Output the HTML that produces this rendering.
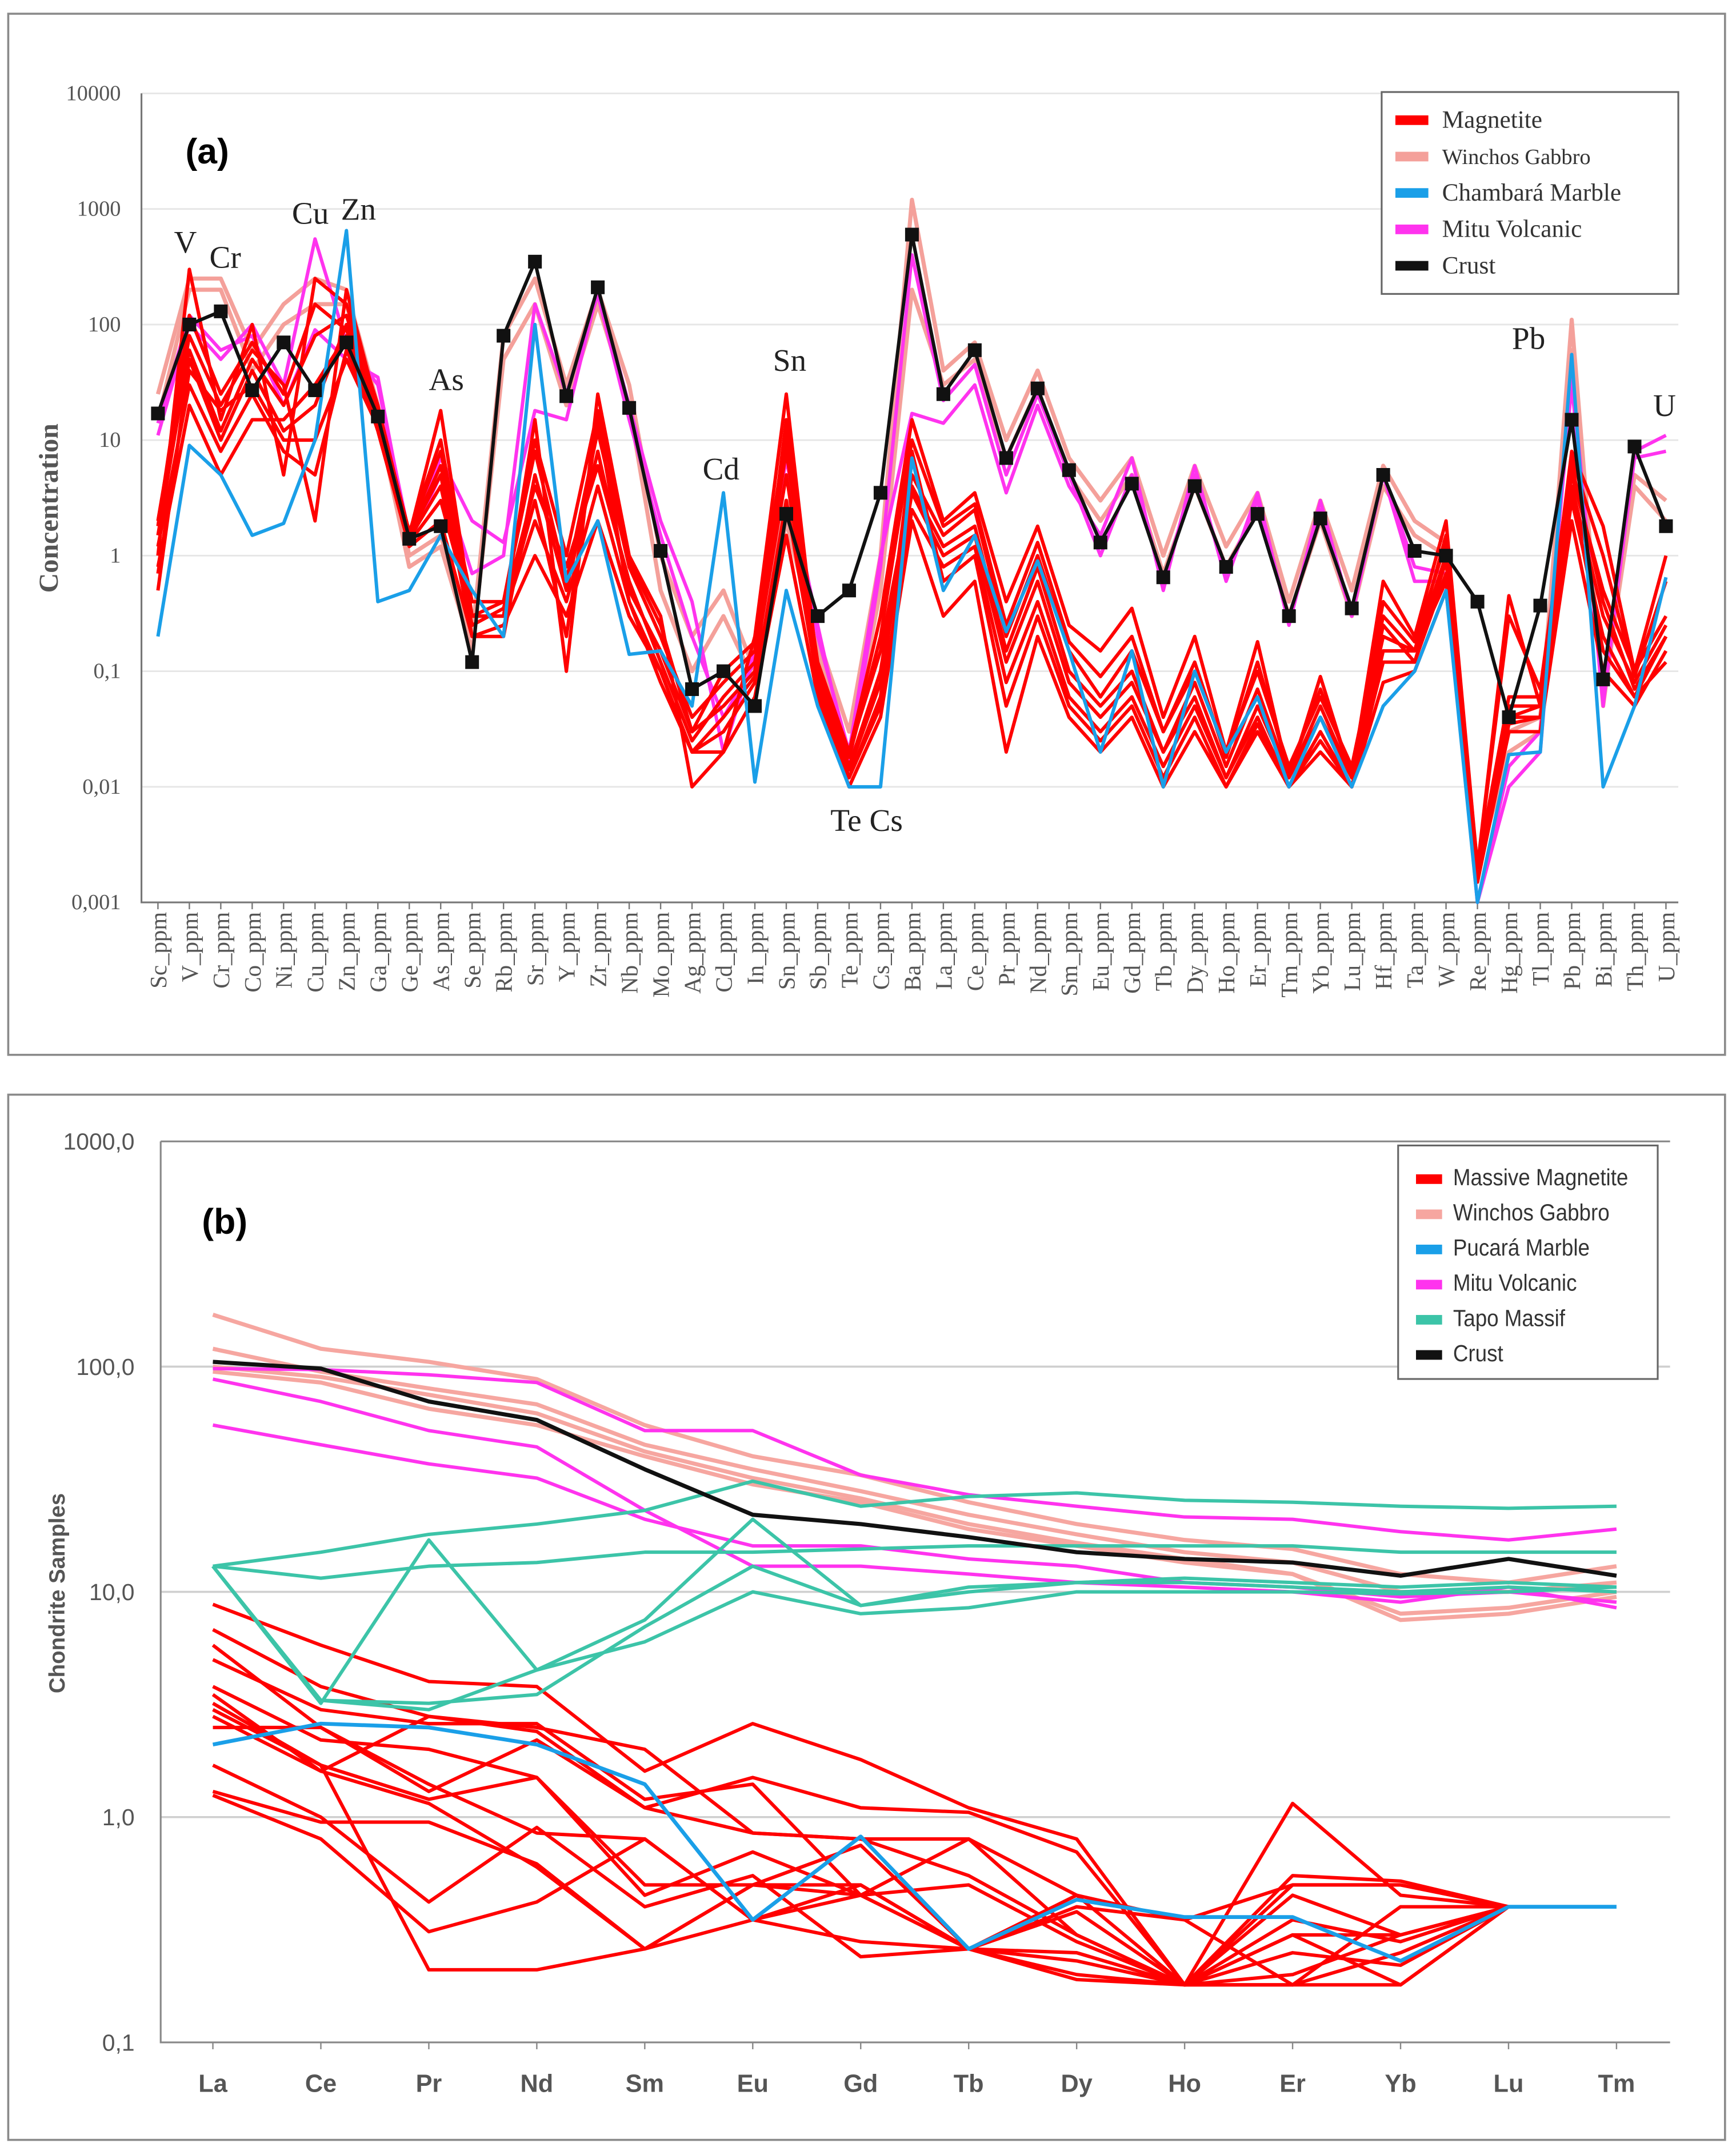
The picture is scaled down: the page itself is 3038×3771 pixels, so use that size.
<!DOCTYPE html>
<html><head><meta charset="utf-8">
<style>
html,body{margin:0;padding:0;background:#fff;}
svg{display:block;}
.serif{font-family:"Liberation Serif",serif;}
.sans{font-family:"Liberation Sans",sans-serif;}
</style></head>
<body>
<svg id="fig" width="3038" height="3771" viewBox="0 0 1264 1569" preserveAspectRatio="none" xmlns="http://www.w3.org/2000/svg">
<defs><clipPath id="lgclip"><rect x="1018" y="834" width="188" height="170"/></clipPath></defs>
<rect x="0" y="0" width="1264" height="1569" fill="#fff"/>
<rect x="6" y="10" width="1250" height="758" fill="none" stroke="#8a8a8a" stroke-width="1.5"/>
<rect x="6" y="797" width="1250" height="761" fill="none" stroke="#8a8a8a" stroke-width="1.5"/>
<g id="ga"></g>
<g id="gb"></g>
</svg>
<script>
// ---------- Chart A data ----------
const catsA = ["Sc","V","Cr","Co","Ni","Cu","Zn","Ga","Ge","As","Se","Rb","Sr","Y","Zr","Nb","Mo","Ag","Cd","In","Sn","Sb","Te","Cs","Ba","La","Ce","Pr","Nd","Sm","Eu","Gd","Tb","Dy","Ho","Er","Tm","Yb","Lu","Hf","Ta","W","Re","Hg","Tl","Pb","Bi","Th","U"];
const ticksA = ["10000","1000","100","10","1","0,1","0,01","0,001"];
const crustA = [17,100,130,27,70,27,70,16,1.4,1.8,0.12,80,350,24,210,19,1.1,0.07,0.1,0.05,2.3,0.3,0.5,3.5,600,25,60,7,28,5.5,1.3,4.2,0.65,4,0.8,2.3,0.3,2.1,0.35,5,1.1,1,0.4,0.04,0.37,15,0.085,8.8,1.8];
const marbleA = [0.2,9,5,1.5,1.9,10,650,0.4,0.5,1.5,0.5,0.2,100,0.6,2,0.14,0.15,0.05,3.5,0.011,0.5,0.05,0.01,0.01,7,0.5,1.5,0.22,0.9,0.15,0.02,0.15,0.01,0.1,0.02,0.06,0.01,0.04,0.01,0.05,0.1,0.5,0.001,0.019,0.02,55,0.01,0.05,0.65];
const magA1 = [1,300,15,100,5,250,150,20,1.5,18,0.3,0.3,15,0.1,25,1,0.3,0.01,0.02,0.2,25,0.1,0.02,0.3,15,2,3.5,0.4,1.8,0.25,0.15,0.35,0.04,0.2,0.02,0.18,0.012,0.09,0.012,0.6,0.2,2,0.002,0.45,0.05,8,1.8,0.1,1];
const magA2 = [0.5,50,10,40,12,20,100,15,1.5,5,0.2,0.2,5,0.5,8,0.5,0.15,0.03,0.05,0.1,10,0.1,0.015,0.1,5,1.5,2.5,0.2,1,0.15,0.06,0.15,0.03,0.1,0.02,0.1,0.015,0.06,0.015,0.3,0.15,1,0.002,0.05,0.05,5,0.5,0.1,0.3];
const magA3 = [1.2,30,8,25,8,5,60,14,1.3,3,0.3,0.3,2,0.4,4,0.4,0.1,0.02,0.03,0.08,3,0.08,0.012,0.05,2.5,0.8,1.2,0.08,0.4,0.06,0.03,0.06,0.015,0.05,0.012,0.04,0.01,0.03,0.01,0.12,0.12,0.7,0.0015,0.04,0.04,3,0.2,0.06,0.2];
const magA4 = [2,80,20,60,30,2,200,18,1.6,8,0.4,0.4,8,0.6,12,0.8,0.2,0.04,0.08,0.15,8,0.12,0.02,0.15,4,1.2,1.8,0.15,0.8,0.1,0.05,0.1,0.02,0.08,0.015,0.07,0.012,0.05,0.012,0.2,0.15,1.5,0.002,0.06,0.06,4,0.3,0.08,0.25];
const magA5 = [0.8,20,5,15,15,30,80,12,1.2,2,0.2,0.25,1,0.3,2,0.3,0.1,0.02,0.02,0.06,1.5,0.06,0.01,0.04,2,0.3,0.6,0.02,0.2,0.04,0.02,0.04,0.01,0.03,0.01,0.03,0.01,0.02,0.01,0.08,0.1,0.5,0.0015,0.03,0.03,2,0.1,0.05,0.15];
const magA6 = [1.5,60,12,50,20,80,120,16,1.4,4,0.25,0.35,4,0.8,6,0.6,0.12,0.025,0.06,0.12,5,0.09,0.014,0.08,3.5,1,1.5,0.12,0.6,0.08,0.04,0.08,0.02,0.06,0.012,0.05,0.012,0.04,0.012,0.25,0.12,0.9,0.002,0.04,0.05,6,0.4,0.07,0.2];
const magA7 = [0.7,40,18,30,10,10,50,13,1.5,6,0.3,0.3,3,0.2,15,0.4,0.08,0.02,0.04,0.09,15,0.07,0.012,0.06,8,0.6,1,0.05,0.3,0.05,0.025,0.05,0.012,0.04,0.01,0.035,0.01,0.025,0.01,0.15,0.15,0.6,0.0015,0.035,0.04,3.5,0.15,0.06,0.12];
const magA8 = [1.8,120,25,70,25,150,90,17,1.6,10,0.3,0.4,10,1,18,0.9,0.25,0.03,0.1,0.18,12,0.11,0.018,0.2,10,1.8,2.8,0.25,1.3,0.18,0.09,0.2,0.03,0.12,0.018,0.12,0.013,0.07,0.013,0.4,0.18,1.3,0.002,0.3,0.07,7,1,0.09,0.6];
const winA1 = [25,250,250,60,150,250,200,20,1,1.5,0.2,80,250,30,200,30,1,0.2,0.5,0.1,3,0.2,0.03,1,1200,40,70,10,40,7,3,7,1,6,1.2,3.5,0.4,3,0.5,6,2,1.3,0.002,0.02,0.03,110,0.05,5,3];
const winA2 = [15,200,200,40,100,150,150,15,0.8,1.2,0.15,50,150,20,150,20,0.5,0.1,0.3,0.08,2,0.15,0.02,0.5,200,30,50,7,28,5,2,5,0.7,4,0.8,2.5,0.3,2,0.3,4,1.5,1,0.002,0.03,0.04,60,0.06,4,2];
const mituA1 = [11,100,50,100,30,550,70,30,1.5,7,2,1.3,18,15,200,20,2,0.4,0.02,0.15,7,0.2,0.02,1,17,14,30,3.5,20,4,1.5,7,0.5,6,0.6,3.5,0.25,3,0.3,5,0.6,0.6,0.001,0.01,0.02,40,0.05,8,11];
const mituA2 = [14,120,60,80,20,90,50,35,1.3,5,0.7,1,150,25,180,15,1.5,0.2,0.04,0.12,5,0.25,0.015,0.8,400,22,45,5,25,5,1,5,0.6,5,0.7,3,0.28,2.5,0.3,5,0.8,0.7,0.001,0.015,0.03,30,0.06,7,8];
// ---------- Chart B data ----------
const catsB = ["La","Ce","Pr","Nd","Sm","Eu","Gd","Tb","Dy","Ho","Er","Yb","Lu","Tm"];
const ticksB = ["1000,0","100,0","10,0","1,0","0,1"];
const crustB = [105,98,70,58,35,22,20,17.5,15,14,13.5,11.8,14,11.8];
const pucaraB = [2.1,2.6,2.5,2.1,1.4,0.35,0.82,0.26,0.43,0.36,0.36,0.23,0.4,0.4];
const mituB1 = [88,70,52,44,23,13,13,12,11,10.5,10,9,10.5,8.5];
const mituB2 = [55,45,37,32,21,16,16,14,13,11,10.5,9.5,10,9];
const mituB3 = [98,97,92,85,52,52,33,27,24,21.5,21,18.5,17,19];
const winB1 = [170,120,105,88,55,40,33,25,20,17,15.5,12,11,13];
const winB2 = [120,95,80,68,45,35,28,22,18,15,13.5,10,10,11];
const winB3 = [100,90,75,62,42,32,26,20,16.5,14,12,8,8.5,10];
const winB4 = [95,85,65,55,40,30,25,19,16,13.5,12,7.5,8,9.5];
const tapoB1 = [13,15,18,20,23,31,24,26.5,27.5,25.5,25,24,23.5,24];
const tapoB2 = [13,11.5,13,13.5,15,15,15.5,16,16,16,16,15,15,15];
const tapoB3 = [13,3.2,17,4.5,7.5,21,8.7,10,11,11.5,11,10.5,11,10.5];
const tapoB4 = [13,3.3,3.2,3.5,7,13,8.7,10.5,11,11,10.5,10,10.5,10];
const tapoB5 = [13,3.3,3,4.5,6,10,8,8.5,10,10,10,9.8,10,10.5];
const magB1 = [8.8,5.8,4,3.8,1.6,2.6,1.8,1.1,0.8,0.18,1.15,0.45,0.4];
const magB2 = [6.8,3.8,2.8,2.5,2.0,0.85,0.8,0.8,0.45,0.35,0.5,0.5,0.4];
const magB3 = [5.8,2.5,1.3,2.2,1.1,1.5,1.1,1.05,0.7,0.18,0.55,0.52,0.4];
const magB4 = [5,3,2.6,2.6,1.2,1.4,0.45,0.8,0.3,0.18,0.2,0.3,0.4];
const magB5 = [3.8,2.2,2,1.5,0.45,0.7,0.45,0.26,0.38,0.18,0.35,0.28,0.4];
const magB6 = [3.2,1.7,1.2,1.5,0.5,0.5,0.5,0.26,0.25,0.18,0.3,0.18,0.4];
const magB7 = [2.8,1.6,1.15,0.6,0.26,0.5,0.75,0.26,0.4,0.35,0.18,0.4,0.4];
const magB8 = [2.5,2.5,1.4,0.85,0.8,0.35,0.28,0.26,0.2,0.18,0.25,0.22,0.4];
const magB9 = [1.7,1.0,0.42,0.9,0.4,0.55,0.24,0.26,0.45,0.18,0.45,0.3,0.4];
const magB10 = [1.3,0.95,0.95,0.62,0.26,0.35,0.45,0.5,0.28,0.18,0.18,0.18,0.4];
const magB11 = [1.25,0.8,0.31,0.42,0.8,0.35,0.5,0.26,0.23,0.18,0.5,0.5,0.4];
const magB12 = [3.0,1.7,0.21,0.21,0.26,0.5,0.45,0.26,0.19,0.18,0.3,0.3,0.4];
const magB13 = [3.5,1.6,2.8,2.4,1.1,0.85,0.8,0.55,0.3,0.18,0.18,0.25,0.4];

const NS = "http://www.w3.org/2000/svg";
function mk(parent, tag, attrs, text){
  const e = document.createElementNS(NS, tag);
  for (const k in attrs) e.setAttribute(k, attrs[k]);
  if (text !== undefined) e.textContent = text;
  parent.appendChild(e); return e;
}

// ---------- Chart A ----------
const ga = document.getElementById('ga');
const A = {x0:103, x1:1222, y0:68, y1:657, c0:115, c1:1213};
const xA = i => A.c0 + i*(A.c1-A.c0)/(catsA.length-1);
const yA = v => A.y0 + (4 - Math.log10(v)) * (A.y1-A.y0)/7;
ticksA.forEach((t,i)=>{
  const y = A.y0 + i*(A.y1-A.y0)/7;
  const g = mk(ga,'line',{x1:A.x0,x2:A.x1,y1:y,y2:y,stroke:'#e6e6e6','stroke-width':1.2});
  
  
  const l = mk(ga,'text',{x:88,y:y+5,'text-anchor':'end','font-size':16,fill:'#555',class:'serif'},t);
  
  
});
const axA = mk(ga,'path',{d:`M${A.x0} ${A.y0}V${A.y1}H${A.x1}`,fill:'none',stroke:'#777','stroke-width':1.3});


catsA.forEach((c,i)=>{
  const x = xA(i);
  mk(ga,'line',{x1:x,x2:x,y1:A.y1,y2:A.y1+5,stroke:'#777'});
  const t = mk(ga,'text',{transform:`translate(${x+6},664) rotate(-90)`,'text-anchor':'end','font-size':17,fill:'#555',class:'serif'},c+'_ppm');
  
  
});
function lineA(arr,color,w,name){
  const p = mk(ga,'polyline',{points:arr.map((v,i)=>xA(i)+','+yA(v)).join(' '),fill:'none',stroke:color,'stroke-width':w,'stroke-linejoin':'round'});
  
  
}
[winA1,winA2].forEach(s=>lineA(s,'#f4a09a',3,'winchos-gabbro-line'));
[mituA1,mituA2].forEach(s=>lineA(s,'#ff33ee',2.5,'mitu-volcanic-line'));
[magA1,magA2,magA3,magA4,magA5,magA6,magA7,magA8].forEach(s=>lineA(s,'#ff0000',2.5,'magnetite-line'));
lineA(marbleA,'#1a9fe8',2.5,'chambara-marble-line');
lineA(crustA,'#111',2.5,'crust-line');
crustA.forEach((v,i)=>{
  const r = mk(ga,'rect',{x:xA(i)-5,y:yA(v)-5,width:10,height:10,fill:'#111'});
  
  
});
const yt = mk(ga,'text',{transform:'translate(42,370) rotate(-90)','text-anchor':'middle','font-size':20,'font-weight':'bold',fill:'#555',class:'serif'},'Concentration');


const pa = mk(ga,'text',{x:135,y:119,'font-size':26,'font-weight':'bold',fill:'#000',class:'sans'},'(a)');


[["V",135,184],["Cr",164,195],["Cu",226,163],["Zn",261,160],["As",325,284],["Cd",525,349],["Sn",575,270],["Te Cs",631,605],["Pb",1113,254],["U",1212,303]].forEach(a=>{
  const t = mk(ga,'text',{x:a[1],y:a[2],'text-anchor':'middle','font-size':23,fill:'#222',class:'serif'},a[0]);
  
  
});
const lgA = mk(ga,'rect',{x:1006,y:67,width:216,height:147,fill:'#fff',stroke:'#666','stroke-width':1.3});


[["Magnetite","#ff0000"],["Winchos Gabbro","#f4a09a"],["Chambará Marble","#1a9fe8"],["Mitu Volcanic","#ff33ee"],["Crust","#111"]].forEach((e,i)=>{
  const y = 87 + i*26.5;
  mk(ga,'rect',{x:1016,y:y-3,width:24,height:7,fill:e[1]});
  const t = mk(ga,'text',{x:1050,y:y+6,'font-size':e[0]==="Winchos Gabbro"?16:18,fill:'#333',class:'serif'},e[0]);
  
  
});

// ---------- Chart B ----------
const gb = document.getElementById('gb');
const B = {x0:117, x1:1216, y0:831, y1:1487, c0:155, c1:1177};
const xB = i => B.c0 + i*(B.c1-B.c0)/(catsB.length-1);
const yB = v => B.y0 + (3 - Math.log10(v)) * (B.y1-B.y0)/4;
ticksB.forEach((t,i)=>{
  const y = B.y0 + i*(B.y1-B.y0)/4;
  if(i>0 && i<4){
    const g = mk(gb,'line',{x1:B.x0,x2:B.x1,y1:y,y2:y,stroke:'#cfcfcf','stroke-width':1.5});
    
    
  }
  const l = mk(gb,'text',{x:98,y:y+6,'text-anchor':'end','font-size':17,fill:'#555',class:'sans'},t);
  
  
});
const axB = mk(gb,'path',{d:`M${B.x0} ${B.y0}V${B.y1}H${B.x1}M${B.x0} ${B.y0}H${B.x1}`,fill:'none',stroke:'#888','stroke-width':1.3});


catsB.forEach((c,i)=>{
  const x = xB(i);
  mk(gb,'line',{x1:x,x2:x,y1:B.y1,y2:B.y1+5,stroke:'#888'});
  const t = mk(gb,'text',{x:x,y:1523,'text-anchor':'middle','font-size':18,'font-weight':'bold',fill:'#555',class:'sans'},c);
  
  
});
function lineB(arr,color,w,name){
  const p = mk(gb,'polyline',{points:arr.map((v,i)=>xB(i)+','+yB(v)).join(' '),fill:'none',stroke:color,'stroke-width':w,'stroke-linejoin':'round'});
  
  
}
[magB1,magB2,magB3,magB4,magB5,magB6,magB7,magB8,magB9,magB10,magB11,magB12,magB13].forEach(s=>lineB(s,'#ff0000',2.5,'massive-magnetite-line'));
[winB1,winB2,winB3,winB4].forEach(s=>lineB(s,'#f6a6a0',3,'winchos-gabbro-line'));
[mituB1,mituB2,mituB3].forEach(s=>lineB(s,'#ff33ee',2.5,'mitu-volcanic-line'));
[tapoB1,tapoB2,tapoB3,tapoB4,tapoB5].forEach(s=>lineB(s,'#3cc4a8',2.5,'tapo-massif-line'));
lineB(pucaraB,'#1a9fe8',2.8,'pucara-marble-line');
lineB(crustB,'#111',3,'crust-line');
const ytb = mk(gb,'text',{transform:'translate(47,1160) rotate(-90)','text-anchor':'middle','font-size':16,'font-weight':'bold',fill:'#555',class:'sans'},'Chondrite Samples');


const pb = mk(gb,'text',{x:147,y:898,'font-size':26,'font-weight':'bold',fill:'#000',class:'sans'},'(b)');


const lgB = mk(gb,'rect',{x:1018,y:834,width:189,height:170,fill:'#fff',stroke:'#666','stroke-width':1.3});


const lgBg = mk(gb,'g',{'clip-path':'url(#lgclip)'});
[["Massive Magnetite","#ff0000"],["Winchos Gabbro","#f6a6a0"],["Pucará Marble","#1a9fe8"],["Mitu Volcanic","#ff33ee"],["Tapo Massif","#3cc4a8"],["Crust","#111"]].forEach((e,i)=>{
  const y = 857 + i*25.6;
  mk(lgBg,'rect',{x:1031,y:y-2,width:19,height:7,fill:e[1]});
  const t = mk(lgBg,'text',{x:1058,y:y+6,'font-size':17,fill:'#333',class:'sans',transform:`translate(1058 0) scale(0.9 1) translate(-1058 0)`},e[0]);
  
  
});
</script>
</body></html>
